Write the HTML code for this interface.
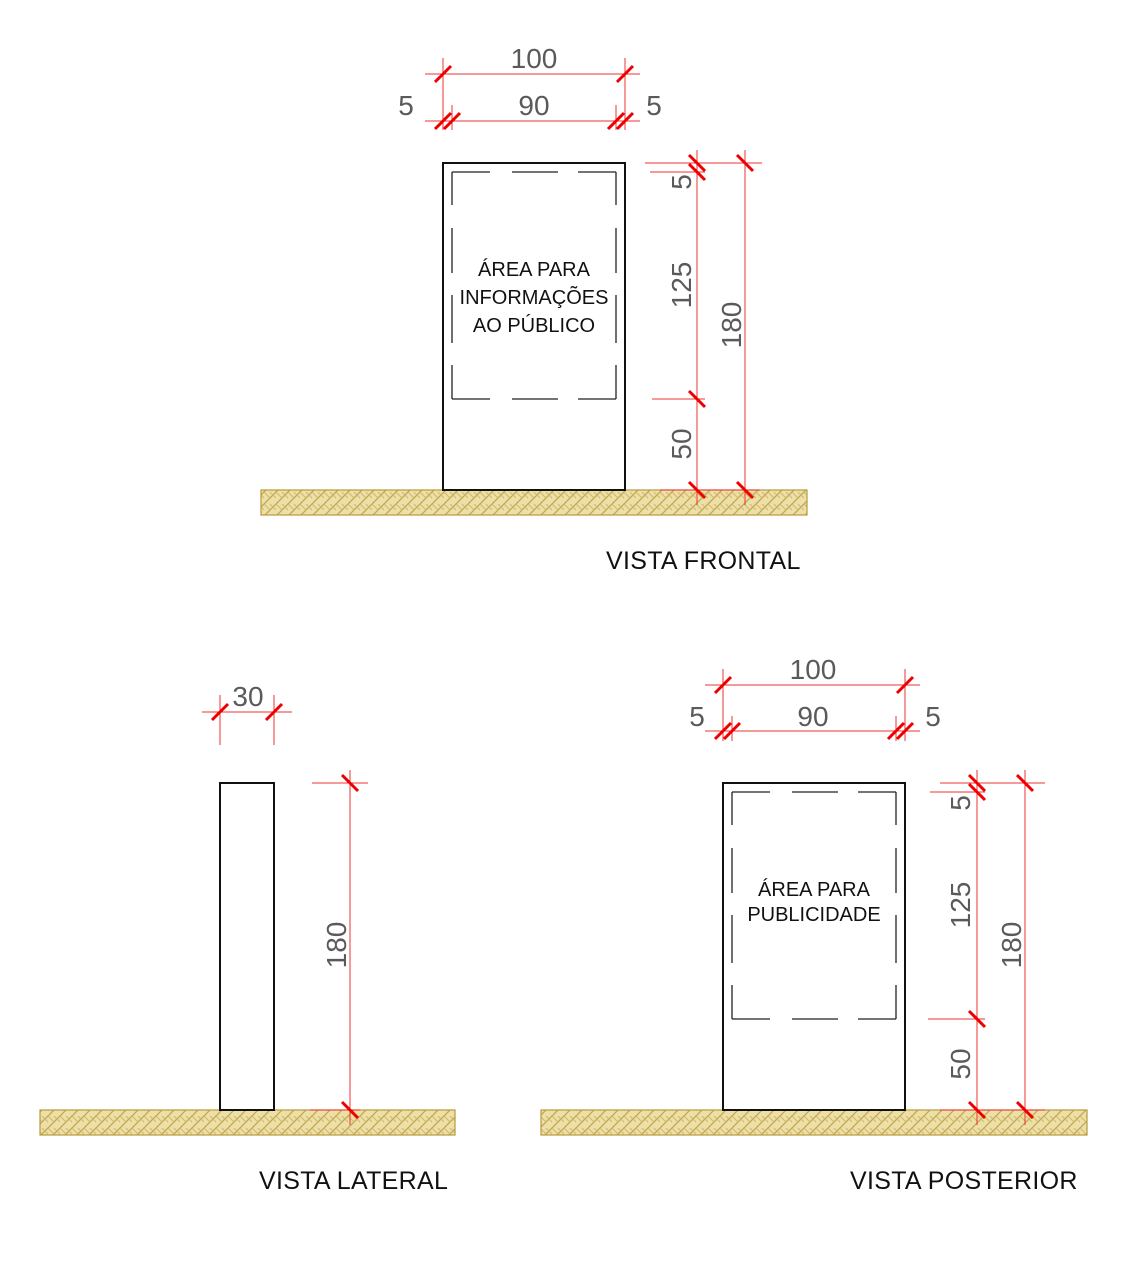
<!DOCTYPE html>
<html><head><meta charset="utf-8"><style>
html,body{margin:0;padding:0;background:#fff;}
svg{display:block;}
.d{font-family:"Liberation Sans",sans-serif;font-size:28px;fill:#5a5a5a;}
.t{font-family:"Liberation Sans",sans-serif;font-size:20px;fill:#111;text-anchor:middle;}
.v{font-family:"Liberation Sans",sans-serif;font-size:25px;fill:#111;letter-spacing:0.3px;}
</style></head><body>
<svg width="1130" height="1280" viewBox="0 0 1130 1280" xmlns="http://www.w3.org/2000/svg">
<defs>
<pattern id="h" width="12" height="12" patternUnits="userSpaceOnUse">
<rect width="12" height="12" fill="#ece0a8"/>
<path d="M0 12L12 0M-3 3L3 -3M9 15L15 9" stroke="#c3a650" stroke-width="1.3"/>
<path d="M0 0L6 6M6 0L12 6" stroke="#d2b96c" stroke-width="1.1"/>
</pattern>
<g id="dash" fill="none" stroke="#222" stroke-width="1.3">
<path d="M0 0H38M60 0H106M126 0H164M0 227H38M60 227H106M126 227H164"/>
<path d="M0 0V33M0 56V101M0 123V171M0 193V227M164 0V33M164 56V101M164 123V171M164 193V227"/>
</g>
</defs>

<rect x="261" y="490" width="546" height="25" fill="url(#h)" stroke="#b99a3c" stroke-width="1.2"/>
<rect x="40" y="1110" width="415" height="25" fill="url(#h)" stroke="#b99a3c" stroke-width="1.2"/>
<rect x="541" y="1110" width="546" height="25" fill="url(#h)" stroke="#b99a3c" stroke-width="1.2"/>

<!-- FRONTAL -->
<rect x="443" y="163" width="182" height="327" fill="none" stroke="#111" stroke-width="2"/>
<use href="#dash" x="452" y="172"/>
<text class="t" x="534" y="276">ÁREA PARA</text>
<text class="t" x="534" y="304">INFORMAÇÕES</text>
<text class="t" x="534" y="332">AO PÚBLICO</text>
<g stroke="#e33" stroke-width="1" fill="none">
<path d="M425 74H640M443 58V130M625 58V130M425 121H640M452 105V130M616 105V130"/>
<path d="M645 163H762M650 172H705M652 399H705M660 490H760M697 150V505M745 150V505"/>
</g>
<g stroke="#e00" stroke-width="3">
<path d="M435 82L451 66M617 82L633 66"/>
<path d="M435 129L451 113M444 129L460 113M608 129L624 113M617 129L633 113"/>
<path d="M689 155L705 171M689 164L705 180M737 155L753 171M689 391L705 407M689 482L705 498M737 482L753 498"/>
</g>
<text class="d" x="534" y="68" text-anchor="middle">100</text>
<text class="d" x="534" y="115" text-anchor="middle">90</text>
<text class="d" x="406" y="115" text-anchor="middle">5</text>
<text class="d" x="654" y="115" text-anchor="middle">5</text>
<text class="d" transform="translate(691,182) rotate(-90)" text-anchor="middle">5</text>
<text class="d" transform="translate(691,285) rotate(-90)" text-anchor="middle">125</text>
<text class="d" transform="translate(741,325) rotate(-90)" text-anchor="middle">180</text>
<text class="d" transform="translate(691,444) rotate(-90)" text-anchor="middle">50</text>
<text class="v" x="606" y="569">VISTA FRONTAL</text>

<!-- LATERAL -->
<rect x="220" y="783" width="54" height="327" fill="none" stroke="#111" stroke-width="2"/>
<g stroke="#e33" stroke-width="1" fill="none">
<path d="M202 712H292M220 695V745M274 695V745M312 783H368M350 770V1125M310 1110H360"/>
</g>
<g stroke="#e00" stroke-width="3">
<path d="M212 720L228 704M266 720L282 704M342 775L358 791M342 1102L358 1118"/>
</g>
<text class="d" x="248" y="706" text-anchor="middle">30</text>
<text class="d" transform="translate(346,945) rotate(-90)" text-anchor="middle">180</text>
<text class="v" x="259" y="1189">VISTA LATERAL</text>

<!-- POSTERIOR -->
<rect x="723" y="783" width="182" height="327" fill="none" stroke="#111" stroke-width="2"/>
<use href="#dash" x="732" y="792"/>
<text class="t" x="814" y="896">ÁREA PARA</text>
<text class="t" x="814" y="921">PUBLICIDADE</text>
<g stroke="#e33" stroke-width="1" fill="none">
<path d="M705 685H920M723 669V741M905 669V741M705 731H920M732 716V741M896 716V741"/>
<path d="M940 783H1045M930 792H985M928 1019H985M940 1110H1045M977 770V1125M1025 770V1125"/>
</g>
<g stroke="#e00" stroke-width="3">
<path d="M715 693L731 677M897 693L913 677"/>
<path d="M715 739L731 723M724 739L740 723M888 739L904 723M897 739L913 723"/>
<path d="M969 775L985 791M969 784L985 800M1017 775L1033 791M969 1011L985 1027M969 1102L985 1118M1017 1102L1033 1118"/>
</g>
<text class="d" x="813" y="679" text-anchor="middle">100</text>
<text class="d" x="813" y="726" text-anchor="middle">90</text>
<text class="d" x="697" y="726" text-anchor="middle">5</text>
<text class="d" x="933" y="726" text-anchor="middle">5</text>
<text class="d" transform="translate(970,803) rotate(-90)" text-anchor="middle">5</text>
<text class="d" transform="translate(970,905) rotate(-90)" text-anchor="middle">125</text>
<text class="d" transform="translate(1021,945) rotate(-90)" text-anchor="middle">180</text>
<text class="d" transform="translate(970,1064) rotate(-90)" text-anchor="middle">50</text>
<text class="v" x="850" y="1189">VISTA POSTERIOR</text>
</svg>
</body></html>
